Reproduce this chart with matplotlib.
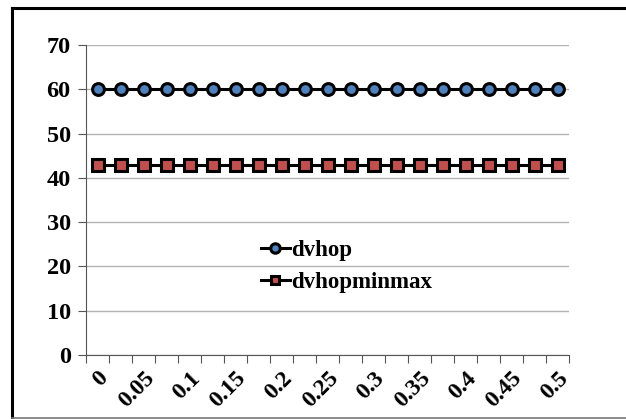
import matplotlib
matplotlib.use("Agg")
import matplotlib.pyplot as plt
from matplotlib.lines import Line2D
from matplotlib.transforms import ScaledTranslation

# alpha values on the x axis (one point every 0.025)
alpha = [0, 0.025, 0.05, 0.075, 0.1, 0.125, 0.15, 0.175, 0.2, 0.225, 0.25,
         0.275, 0.3, 0.325, 0.35, 0.375, 0.4, 0.425, 0.45, 0.475, 0.5]
dvhop = [60] * 21
dvhopminmax = [43] * 21
tick_labels = ['0', '0.05', '0.1', '0.15', '0.2', '0.25',
               '0.3', '0.35', '0.4', '0.45', '0.5']

plt.rcParams['font.family'] = ['Liberation Serif', 'DejaVu Serif']
plt.rcParams['font.weight'] = 'bold'

W, H = 626, 419
fig = plt.figure(figsize=(W / 100, H / 100), dpi=100)
ax = fig.add_axes([86 / W, 1 - 355 / H, (569 - 86) / W, (355 - 45) / H])

x = list(range(len(alpha)))
ax.plot(x, dvhop, color='black', lw=2.2, marker='o', ms=8.5,
        mfc='#4F81BD', mec='black', mew=2.2, label='dvhop', zorder=3)
ax.plot(x, dvhopminmax, color='black', lw=2.2, marker='s', ms=8,
        mfc='#C0504D', mec='black', mew=2.2, label='dvhopminmax', zorder=3)

ax.set_ylim(0, 70)
ax.set_yticks(range(0, 80, 10))
ax.set_xlim(-0.5, len(alpha) - 0.5)
ax.set_xticks([i - 0.5 for i in range(len(alpha) + 1)])
ax.set_xticklabels([])
ax.set_xticks(x[::2], minor=True)
ax.set_xticklabels(tick_labels, minor=True, rotation=45, ha='right',
                   va='top', rotation_mode='anchor', fontsize=17,
                   fontweight='bold')
# nudge the rotated labels a little to the left
shift = ScaledTranslation(-5 / 100, 0, fig.dpi_scale_trans)
for lab in ax.get_xticklabels(minor=True):
    lab.set_transform(lab.get_transform() + shift)
ax.tick_params(axis='x', which='minor', length=0, pad=9)
ax.tick_params(axis='x', which='major', length=6, color='#555555')
ax.tick_params(axis='y', length=6, color='#555555', labelsize=17.5, pad=5)
for lab in ax.get_yticklabels():
    lab.set_fontweight('bold')

ax.grid(axis='y', color='#b3b3b3', lw=1)
ax.set_axisbelow(True)
for s in ['top', 'right']:
    ax.spines[s].set_visible(False)
ax.spines['left'].set_color('#555555')
ax.spines['bottom'].set_color('#555555')

leg = ax.legend(loc='center left', bbox_to_anchor=(261 / W, 1 - 266.5 / H),
                bbox_transform=fig.transFigure, frameon=False, borderpad=0,
                borderaxespad=0, handlelength=1.25, handletextpad=0.05,
                labelspacing=0.45, markerscale=0.8,
                prop={'size': 16.5, 'weight': 'bold'})

# outer chart border
fig.add_artist(Line2D([12 / W, 12 / W], [1 - 8 / H, 1 - 418 / H],
                      transform=fig.transFigure, color='black', lw=2.2))
fig.add_artist(Line2D([12 / W, 1], [1 - 8 / H, 1 - 8 / H],
                      transform=fig.transFigure, color='black', lw=2.2))
fig.add_artist(Line2D([12 / W, 1], [1 - 418 / H, 1 - 418 / H],
                      transform=fig.transFigure, color='#777777', lw=1.2))

fig.savefig('out.png', dpi=100)
